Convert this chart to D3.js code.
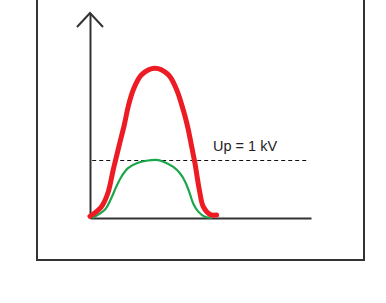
<!DOCTYPE html>
<html>
<head>
<meta charset="utf-8">
<script src="https://cdn.jsdelivr.net/npm/d3@7"></script>
<style>
html,body{margin:0;padding:0;background:#fff;}
svg{display:block;}
</style>
</head>
<body>
<svg id="chart" width="386" height="303"></svg>
<script>
// Time (arbitrary units) and voltage (kV) samples
const redT   = [0, 5.1, 8.1, 10.5, 11.6, 13.6, 15.5, 17.3, 19.6, 23.4, 29.4, 35.4, 39.2, 42.2, 44.2, 46.0, 47.5, 49.5, 51.3, 54.3, 57.3];
const redV   = [0.03, 0.19, 0.43, 0.83, 1.0, 1.31, 1.60, 1.92, 2.21, 2.47, 2.58, 2.47, 2.21, 1.86, 1.57, 1.23, 0.94, 0.48, 0.19, 0.06, 0.05];
const greenT = [1.0, 6.7, 9.6, 11.9, 14.2, 17.2, 21.7, 26.2, 30.0, 33.2, 37.7, 40.7, 43.0, 44.9, 46.7, 49.0, 52.0, 55.1];
const greenV = [0, 0.14, 0.34, 0.54, 0.71, 0.86, 0.95, 0.99, 1.0, 0.97, 0.88, 0.77, 0.63, 0.45, 0.25, 0.11, 0.02, 0];
const protectionLevel = 1;          // Up = 1 kV
const levelLabel = "Up = 1 kV";
const xDomain = [0, 100];
const yDomain = [0, 3.53];

const svg = d3.select("#chart");
const x = d3.scaleLinear().domain(xDomain).range([90, 311]);
const y = d3.scaleLinear().domain(yDomain).range([218, 13]);

// frame
svg.append("rect")
  .attr("x", 37).attr("y", -10)
  .attr("width", 327).attr("height", 270)
  .attr("fill", "none").attr("stroke", "#333").attr("stroke-width", 2);

// x axis (no ticks)
svg.append("g")
  .attr("transform", `translate(0,${y(0)})`)
  .call(d3.axisBottom(x).tickValues([]).tickSizeOuter(0))
  .call(g => g.select(".domain").attr("stroke", "#333").attr("stroke-width", 2));

// y axis (no ticks)
svg.append("g")
  .attr("transform", `translate(${x(0)},0)`)
  .call(d3.axisLeft(y).tickValues([]).tickSizeOuter(0))
  .call(g => g.select(".domain").attr("stroke", "#333").attr("stroke-width", 2));

// arrow head
const yTop = y(yDomain[1]);
svg.append("path")
  .attr("d", `M${x(0)-13},${yTop+14} L${x(0)},${yTop} L${x(0)+13},${yTop+14}`)
  .attr("fill", "none").attr("stroke", "#333").attr("stroke-width", 2);

// dashed protection level
svg.append("line")
  .attr("x1", x(1)).attr("x2", x(99))
  .attr("y1", Math.round(y(protectionLevel)) + 0.5).attr("y2", Math.round(y(protectionLevel)) + 0.5)
  .attr("stroke", "#111").attr("stroke-width", 1)
  .attr("stroke-dasharray", "4,3");

svg.append("text")
  .attr("x", 213).attr("y", 151)
  .attr("font-family", "Liberation Sans, Arial, sans-serif")
  .attr("font-size", 14.5)
  .attr("fill", "#222")
  .text(levelLabel);

const line = d3.line()
  .x(d => x(d[0])).y(d => y(d[1]))
  .curve(d3.curveCatmullRom.alpha(0.5));

svg.append("path")
  .attr("d", line(greenT.map((t, i) => [t, greenV[i]])))
  .attr("fill", "none").attr("stroke", "#1aa64a").attr("stroke-width", 2.2);

svg.append("path")
  .attr("d", line(redT.map((t, i) => [t, redV[i]])))
  .attr("fill", "none").attr("stroke", "#ed1c24").attr("stroke-width", 5)
  .attr("stroke-linecap", "round");
</script>
</body>
</html>
